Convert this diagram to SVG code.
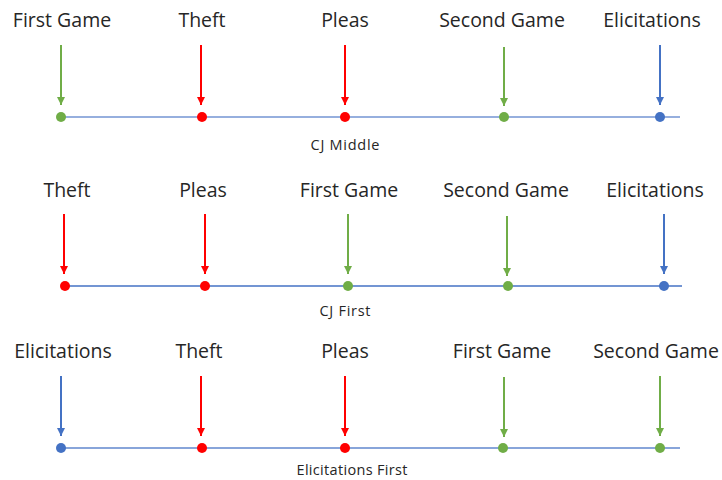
<svg xmlns="http://www.w3.org/2000/svg" width="722" height="480" viewBox="0 0 722 480">
<defs>
<style>
.lbl{font-family:"Open Sans","Liberation Sans",sans-serif;font-size:19.5px;fill:#262626;text-anchor:middle}
.cap{font-family:"Open Sans","Liberation Sans",sans-serif;font-size:14.5px;fill:#262626;text-anchor:middle}
.tl{stroke:#4472C4;stroke-width:1.3;fill:none}
.g{stroke:#70AD47;stroke-width:2;fill:none}
.r{stroke:#FF0000;stroke-width:2;fill:none}
.b{stroke:#4472C4;stroke-width:2;fill:none}
.gd{fill:#70AD47}.rd{fill:#FF0000}.bd{fill:#4472C4}
</style>
<marker id="mg" viewBox="0 0 10 10" refX="10" refY="5" markerWidth="4" markerHeight="4" orient="auto" markerUnits="strokeWidth"><path d="M0,0L10,5L0,10z" fill="#70AD47"/></marker>
<marker id="mr" viewBox="0 0 10 10" refX="10" refY="5" markerWidth="4" markerHeight="4" orient="auto" markerUnits="strokeWidth"><path d="M0,0L10,5L0,10z" fill="#FF0000"/></marker>
<marker id="mb" viewBox="0 0 10 10" refX="10" refY="5" markerWidth="4" markerHeight="4" orient="auto" markerUnits="strokeWidth"><path d="M0,0L10,5L0,10z" fill="#4472C4"/></marker>
</defs>
<rect width="722" height="480" fill="#fff"/>
<g id="timelines">
<line class="tl" x1="60" y1="117" x2="680" y2="117" stroke-opacity="0.75"/>
<line class="tl" x1="64" y1="286" x2="682" y2="286"/>
<line class="tl" x1="60" y1="448" x2="680" y2="448" stroke-opacity="0.85"/>
</g>
<g id="connectors">
<line class="g" x1="61" y1="45" x2="61" y2="105" marker-end="url(#mg)"/>
<line class="r" x1="201" y1="45" x2="201" y2="105" marker-end="url(#mr)"/>
<line class="r" x1="345" y1="45" x2="345" y2="105" marker-end="url(#mr)"/>
<line class="g" x1="504" y1="47" x2="504" y2="106" marker-end="url(#mg)"/>
<line class="b" x1="660" y1="45" x2="660" y2="105" marker-end="url(#mb)"/>

<line class="r" x1="64" y1="214" x2="64" y2="274" marker-end="url(#mr)"/>
<line class="r" x1="205" y1="214" x2="205" y2="274" marker-end="url(#mr)"/>
<line class="g" x1="348" y1="214" x2="348" y2="274" marker-end="url(#mg)"/>
<line class="g" x1="507" y1="216" x2="507" y2="276" marker-end="url(#mg)"/>
<line class="b" x1="664" y1="214" x2="664" y2="274" marker-end="url(#mb)"/>

<line class="b" x1="61" y1="376" x2="61" y2="436" marker-end="url(#mb)"/>
<line class="r" x1="201" y1="376" x2="201" y2="436" marker-end="url(#mr)"/>
<line class="r" x1="345" y1="376" x2="345" y2="436" marker-end="url(#mr)"/>
<line class="g" x1="504" y1="377" x2="504" y2="437" marker-end="url(#mg)"/>
<line class="g" x1="660" y1="376" x2="660" y2="436" marker-end="url(#mg)"/>
</g>
<g id="row1">
<g id="r1-first-game"><text class="lbl" x="62" y="27">First Game</text><circle class="gd" cx="61" cy="117" r="5"/></g>
<g id="r1-theft"><text class="lbl" x="202" y="27">Theft</text><circle class="rd" cx="202" cy="117" r="5"/></g>
<g id="r1-pleas"><text class="lbl" x="345" y="27">Pleas</text><circle class="rd" cx="345" cy="117" r="5"/></g>
<g id="r1-second-game"><text class="lbl" x="502" y="27">Second Game</text><circle class="gd" cx="504" cy="117" r="5"/></g>
<g id="r1-elicitations"><text class="lbl" x="652" y="27">Elicitations</text><circle class="bd" cx="660" cy="117" r="5"/></g>
<text class="cap" x="345" y="150" textLength="69" lengthAdjust="spacing">CJ Middle</text>
</g>
<g id="row2">
<g id="r2-theft"><text class="lbl" x="67" y="197">Theft</text><circle class="rd" cx="65" cy="286" r="5"/></g>
<g id="r2-pleas"><text class="lbl" x="203" y="197">Pleas</text><circle class="rd" cx="205" cy="286" r="5"/></g>
<g id="r2-first-game"><text class="lbl" x="349" y="197">First Game</text><circle class="gd" cx="348" cy="286" r="5"/></g>
<g id="r2-second-game"><text class="lbl" x="506" y="197">Second Game</text><circle class="gd" cx="508" cy="286" r="5"/></g>
<g id="r2-elicitations"><text class="lbl" x="655" y="197">Elicitations</text><circle class="bd" cx="664" cy="286" r="5"/></g>
<text class="cap" x="345" y="316" textLength="51" lengthAdjust="spacing">CJ First</text>
</g>
<g id="row3">
<g id="r3-elicitations"><text class="lbl" x="63" y="358">Elicitations</text><circle class="bd" cx="61" cy="448" r="5"/></g>
<g id="r3-theft"><text class="lbl" x="199" y="358">Theft</text><circle class="rd" cx="202" cy="448" r="5"/></g>
<g id="r3-pleas"><text class="lbl" x="345" y="358">Pleas</text><circle class="rd" cx="345" cy="448" r="5"/></g>
<g id="r3-first-game"><text class="lbl" x="502" y="358">First Game</text><circle class="gd" cx="503" cy="448" r="5"/></g>
<g id="r3-second-game"><text class="lbl" x="656" y="358">Second Game</text><circle class="gd" cx="660" cy="448" r="5"/></g>
<text class="cap" x="352" y="475" textLength="111" lengthAdjust="spacing">Elicitations First</text>
</g>
</svg>
